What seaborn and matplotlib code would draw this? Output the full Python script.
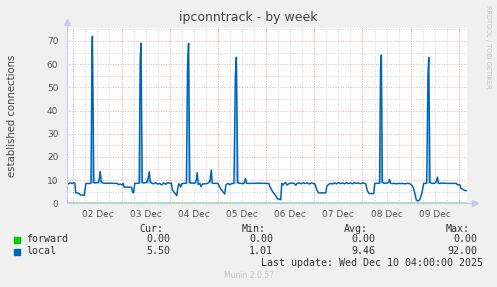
import matplotlib
matplotlib.use("Agg")
import matplotlib.pyplot as plt
import matplotlib.dates as mdates
from matplotlib.ticker import MultipleLocator
import numpy as np
import pandas as pd
import seaborn as sns

# ---------------- data ----------------
title = "ipconntrack - by week"
ylabel = "established connections"
start = "2025-12-02 00:00"
# hours since start, established 'local' connections
hours = [-3.3, -2.5, -1.5, -0.5, 0.3, 0.8, 1.2, 2.0, 3.0, 3.5, 5.5, 6.2, 7.0, 8.0, 8.8,
         9.3, 9.5, 10.2, 10.5, 12.5, 13.0, 13.4, 13.9, 14.5, 16, 18, 20, 21.8, 22.5, 23.5,
         24.2, 24.8, 25.3, 27, 29, 29.5, 30.0, 30.6, 32, 32.8, 33.3, 33.7, 34.3, 35, 36.5,
         37.3, 37.8, 38.3, 39, 40, 41, 42, 43, 44, 45, 46, 47, 48, 48.8, 49.3, 50.0, 50.8,
         51.5, 52.0, 52.5, 53.0, 53.5, 54, 55, 56.3, 56.9, 57.4, 58.0, 59, 60.5, 61.2, 61.7,
         62.2, 63, 63.6, 64.3, 65.5, 67, 68.0, 68.7, 69.2, 70.5, 72, 72.9, 73.6, 74.5, 75.4,
         76.0, 77, 78, 79, 80.0, 80.7, 81.2, 81.9, 83, 85.0, 85.7, 86.3, 88, 90, 92, 94, 96,
         97.4, 98.0, 99.3, 100, 101, 101.6, 103.3, 103.8, 104.5, 105, 105.8, 106.5, 107.5,
         109, 110, 110.8, 111.5, 112.5, 113.5, 114.5, 115.5, 116.5, 117.5, 118.5, 119.5,
         120.3, 121.2, 122.0, 125.7, 126.3, 127.0, 128, 129, 130, 131, 132, 133, 134, 135,
         136, 137, 138, 139, 140, 141, 142, 143, 144, 145.6, 146.4, 147.3, 149.6, 150.1,
         151.5, 152.5, 153.0, 153.4, 153.9, 155, 156.5, 157.0, 157.5, 158.0, 159, 160, 161,
         162, 163, 164, 165, 166.5, 167.5, 168.3, 169.2, 170.0, 170.8, 171.5, 172.5, 173.5,
         174.5, 176.0, 176.6, 177.0, 177.6, 178.5, 180, 180.8, 181.3, 181.8, 182.5, 184, 186,
         188, 190.7, 191.3, 192.5, 193.0, 194.0, 195.0, 195.9]
local = [8.6, 8.4, 8.8, 8.5, 9.0, 8.6, 4.6, 4.5, 4.1, 3.6, 3.5, 8.4, 8.6, 8.5, 8.7,
         66, 72, 9.0, 8.8, 9.0, 11, 13.6, 9.5, 8.8, 8.6, 8.7, 8.6, 8.6, 8.1, 8.3,
         7.9, 8.6, 7.0, 7.0, 6.9, 4.8, 4.5, 8.6, 8.6, 8.7, 62, 69, 9.0, 8.8, 9.0,
         11, 13.6, 9.5, 8.7, 8.4, 8.9, 8.3, 8.6, 7.9, 8.8, 8.2, 8.9, 8.6, 8.8, 5.8, 4.9, 4.2,
         3.3, 6.5, 8.4, 8.0, 7.0, 8.4, 8.6, 8.6, 60, 69, 8.8, 8.8, 8.6, 10, 13.2,
         8.1, 8.6, 7.2, 8.3, 8.4, 8.6, 9.5, 14.3, 8.6, 8.6, 8.6, 7.0, 6.0, 5.0, 4.0,
         8.0, 8.6, 8.0, 8.6, 8.5, 55, 63, 8.8, 8.6, 8.5, 10.7, 8.6, 8.6, 8.6, 8.7, 8.6, 8.6,
         8.5, 7.0, 5.0, 4.2, 3.0, 2.0, 1.6, 8.6, 7.9, 8.6, 8.9, 7.8, 8.6,
         8.7, 8.6, 7.8, 8.6, 8.8, 8.4, 8.9, 8.5, 8.8, 8.3, 8.8, 8.5,
         8.4, 6.0, 4.5, 4.5, 7.5, 8.0, 8.6, 8.3, 8.8, 8.4, 8.9, 8.5, 8.8, 8.4,
         8.9, 8.5, 8.8, 8.4, 8.9, 8.6, 8.8, 8.4, 8.8, 8.5, 5.5, 4.2, 4.2, 8.6,
         8.6, 8.7, 58, 63.9, 9.0, 8.6, 8.8, 9.2, 10.3, 8.6, 8.5, 8.6, 8.4,
         8.6, 8.5, 8.6, 8.4, 8.6, 8.5, 8.0, 7.0, 4.5, 1.5, 1.01, 1.5, 4.2,
         8.6, 8.6, 55, 62.9, 9.0, 8.6, 8.6, 9.5, 11.3, 8.6, 8.6, 8.7, 8.6,
         8.6, 8.6, 8.0, 8.0, 6.5, 6.0, 5.5, 5.5]
day_labels = ["02 Dec", "03 Dec", "04 Dec", "05 Dec", "06 Dec", "07 Dec", "08 Dec", "09 Dec"]
series_names = ["forward", "local"]
series_colors = ["#00cc00", "#0066b3"]
cur = [0.00, 5.50]
mins = [0.00, 1.01]
avgs = [0.00, 9.46]
maxs = [0.00, 92.00]
last_update = "Last update: Wed Dec 10 04:00:00 2025"
version = "Munin 2.0.57"
watermark = "RRDTOOL / TOBI OETIKER"

# ---------------- figure ----------------
W, H = 497, 287
sns.set_style("white")
plt.rcParams["font.family"] = ["DejaVu Sans"]
fig = plt.figure(figsize=(W / 100, H / 100), dpi=100, facecolor="#f0f0f0")

def fx(x):
    return x / W

def fy(y):
    return 1 - y / H

left, right, top, bottom = 66.7, 466.7, 28.0, 203.3
ax = fig.add_axes([fx(left), fy(bottom), fx(right - left), (bottom - top) / H])
ax.set_facecolor("white")

base = pd.Timestamp(start)
df = pd.DataFrame({
    "time": base + pd.to_timedelta(hours, unit="h"),
    "local": local,
})
df["forward"] = 0.0

x0 = base - pd.Timedelta(hours=3.3)
x1 = base + pd.Timedelta(hours=195.9)

# spike fill (light blue inside tall narrow peaks)
yv = np.array(local)
ax.fill_between(df["time"], 8.6, yv, where=yv > 8.6, color="#8dbde3", lw=0, zorder=2)
sns.lineplot(data=df, x="time", y="forward", ax=ax, color=series_colors[0], lw=1.2,
             alpha=0.45, zorder=3, legend=False)
sns.lineplot(data=df, x="time", y="local", ax=ax, color=series_colors[1], lw=1.1,
             zorder=4, legend=False, sort=False)

ax.set_xlim(x0, x1)
ax.set_ylim(0, 75.6)

# grids
red = "#eeaaaa"
gray = "#d2d2d2"
dots = (0, (1, 1.6))
ax.yaxis.set_major_locator(MultipleLocator(10))
ax.yaxis.set_minor_locator(MultipleLocator(5))
ax.grid(which="major", axis="y", color=red, lw=0.7, ls=dots, zorder=1)
ax.grid(which="minor", axis="y", color=gray, lw=0.7, ls=dots, zorder=1)

noon = [base + pd.Timedelta(days=i, hours=12) for i in range(len(day_labels))]
ax.set_xticks(noon)
ax.set_xticklabels(day_labels)
ax.xaxis.set_minor_locator(mdates.HourLocator(byhour=[0, 6, 12, 18]))
ax.xaxis.remove_overlapping_locs = False
ax.grid(which="minor", axis="x", color=gray, lw=0.7, ls=dots, zorder=1)
for i in range(len(day_labels) + 1):
    ax.axvline(base + pd.Timedelta(days=i), color=red, lw=0.7, ls=dots, zorder=1.5)

ax.tick_params(axis="both", which="both", length=0, labelsize=6.5, colors="#555555")
ax.tick_params(axis="y", pad=6)
ax.tick_params(axis="x", pad=5)
ax.set_xlabel("")
ax.set_ylabel("")
for s in ax.spines.values():
    s.set_visible(False)

# axes with arrows
axis_col = "#c8c8f0"
ax.plot([0, 0], [0, 1.03], transform=ax.transAxes, color=axis_col, lw=0.8, clip_on=False, zorder=5)
ax.plot([0], [1.035], transform=ax.transAxes, marker="^", ms=4, color=axis_col, clip_on=False)
ax.plot([0, 1.02], [0, 0], transform=ax.transAxes, color=axis_col, lw=0.8, clip_on=False, zorder=2.5)
ax.plot([1.02], [0], transform=ax.transAxes, marker=">", ms=4, color=axis_col, clip_on=False)

# texts
fig.text(0.5, fy(18), title, ha="center", va="center", fontsize=9, color="#444444")
fig.text(fx(12), (fy(top) + fy(bottom)) / 2, ylabel, rotation=90, ha="center", va="center",
         fontsize=7.3, color="#444444")
fig.text(fx(488), fy(5), watermark, rotation=270, ha="center", va="top", fontsize=4.7,
         color="#c4c4c4")

mono = "DejaVu Sans Mono"
fs = 7.2
tc = "#333333"
for lab, xr in zip(["Cur:", "Min:", "Avg:", "Max:"], [163, 266, 368, 470]):
    fig.text(fx(xr), fy(228.5), lab, ha="right", va="center", family=mono, fontsize=fs, color=tc)
rows_y = [239.5, 251.5]
for i, name in enumerate(series_names):
    y = rows_y[i]
    fig.patches.append(plt.Rectangle((fx(14), fy(y + 3)), fx(5.5), 5.5 / H,
                                     transform=fig.transFigure, color=series_colors[i]))
    fig.text(fx(26.5), fy(y), name, ha="left", va="center", family=mono, fontsize=fs, color=tc)
    for val, xr in zip([cur[i], mins[i], avgs[i], maxs[i]], [170, 273, 375, 477]):
        fig.text(fx(xr), fy(y), f"{val:.2f}", ha="right", va="center", family=mono,
                 fontsize=fs, color=tc)
fig.text(fx(483), fy(263.5), last_update, ha="right", va="center", family=mono, fontsize=fs,
         color=tc)
fig.text(0.5, fy(276), version, ha="center", va="center", fontsize=5.5, color="#c4c4c4")

fig.savefig("out.png", dpi=100, facecolor=fig.get_facecolor())
